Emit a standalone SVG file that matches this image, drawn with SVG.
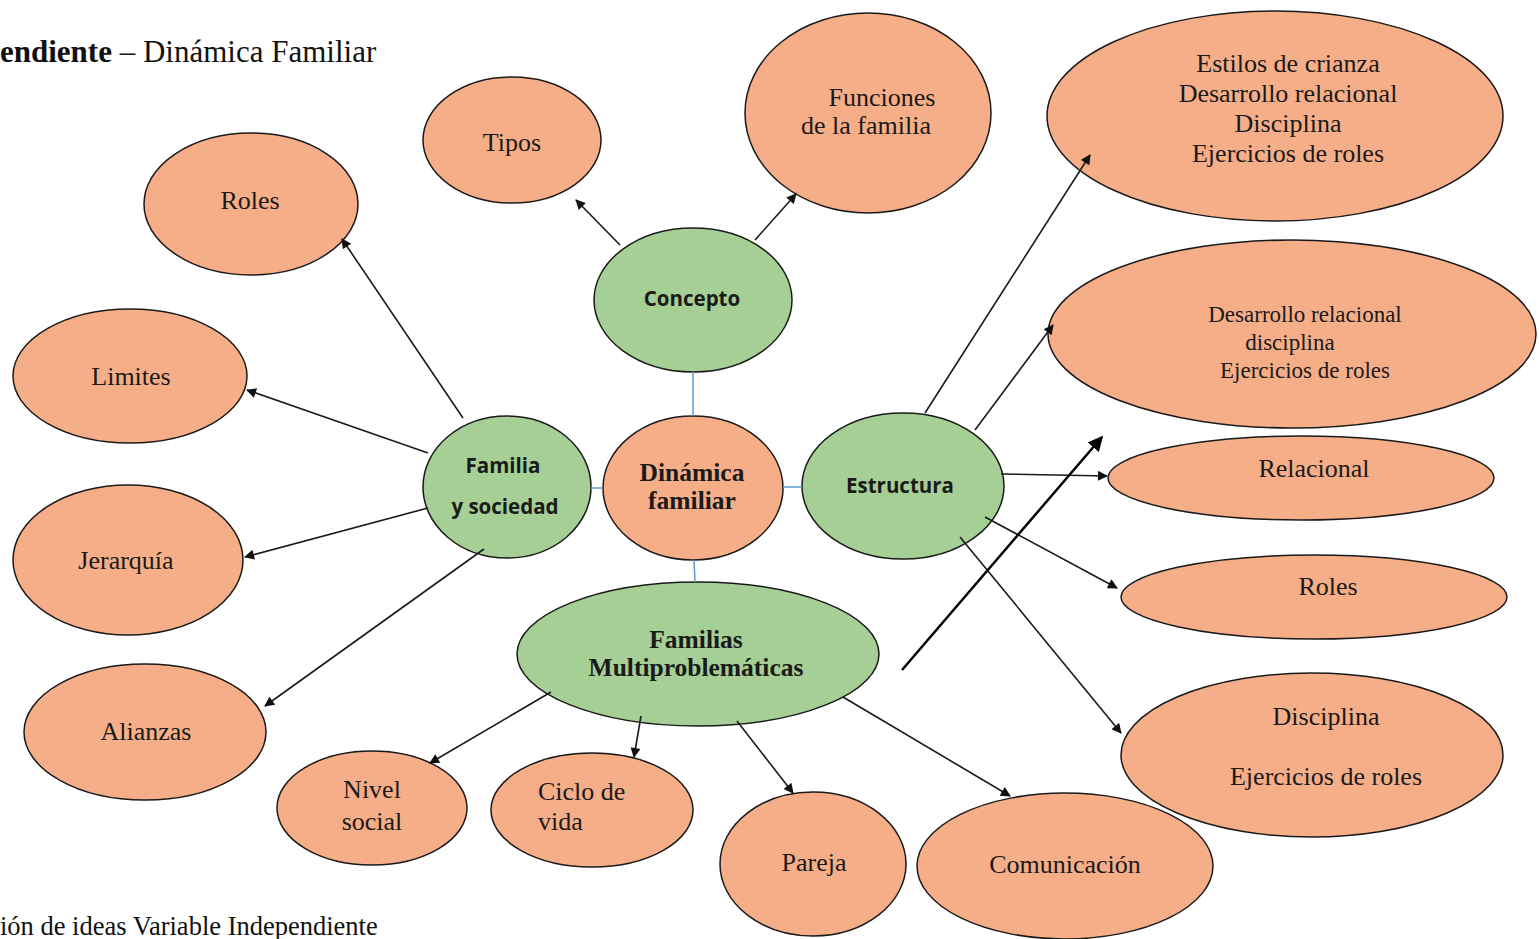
<svg xmlns="http://www.w3.org/2000/svg" width="1539" height="939" viewBox="0 0 1539 939">
<style>
.o{fill:#F6AE88;stroke:#1a1a1a;stroke-width:1.5}
.g{fill:#A5CF94;stroke:#1a1a1a;stroke-width:1.5}
.t{font-family:"Liberation Serif","Times New Roman",serif;font-size:26px;fill:#1a1a1a;text-anchor:middle}
.ts{font-family:"Liberation Serif","Times New Roman",serif;font-size:26px;fill:#1a1a1a;text-anchor:start}
.tn{font-family:"Liberation Serif","Times New Roman",serif;font-size:23px;fill:#1a1a1a;text-anchor:middle}
.tb{font-family:"Liberation Serif","Times New Roman",serif;font-size:25.5px;font-weight:bold;fill:#1a1a1a;text-anchor:middle}
.sb{font-family:"Open Sans","Liberation Sans",Arial,sans-serif;font-size:20.5px;font-weight:bold;fill:#1a1a1a;text-anchor:middle}
.a{stroke:#1a1a1a;stroke-width:1.6;fill:none;marker-end:url(#ah)}
.b{stroke:#5B9BD5;stroke-width:1.5;fill:none}
.cap{font-family:"Liberation Serif","Times New Roman",serif;fill:#111}
</style>
<defs>
<marker id="ah" viewBox="0 0 10 10" refX="9" refY="5" markerWidth="11" markerHeight="10" markerUnits="userSpaceOnUse" orient="auto">
<path d="M0,0 L10,5 L0,10 z" fill="#111"/>
</marker>
<marker id="ah2" viewBox="0 0 10 10" refX="9" refY="5" markerWidth="6" markerHeight="6" orient="auto">
<path d="M0,0 L10,5 L0,10 z" fill="#000"/>
</marker>
</defs>
<rect width="1539" height="939" fill="#fff"/>
<text class="cap" x="0" y="62" style="font-size:31px"><tspan font-weight="bold">endiente</tspan> – Dinámica Familiar</text>
<text class="cap" x="0" y="935" style="font-size:26.5px">ión de ideas Variable Independiente</text>

<g id="n-tipos"><ellipse class="o" cx="512" cy="140" rx="89" ry="63"/><text class="t" x="512" y="151">Tipos</text></g>
<g id="n-funciones"><ellipse class="o" cx="868" cy="113" rx="123" ry="100"/><text class="t" x="882" y="106">Funciones</text><text class="t" x="866" y="134">de la familia</text></g>
<g id="n-estilos"><ellipse class="o" cx="1275" cy="116" rx="228" ry="105"/><text class="t" x="1288" y="72">Estilos de crianza</text><text class="t" x="1288" y="102">Desarrollo relacional</text><text class="t" x="1288" y="132">Disciplina</text><text class="t" x="1288" y="162">Ejercicios de roles</text></g>
<g id="n-roles-l"><ellipse class="o" cx="251" cy="204" rx="107" ry="71"/><text class="t" x="250" y="209">Roles</text></g>
<g id="n-limites"><ellipse class="o" cx="130" cy="376" rx="117" ry="67"/><text class="t" x="131" y="385">Limites</text></g>
<g id="n-jerarquia"><ellipse class="o" cx="128" cy="560" rx="115" ry="75"/><text class="t" x="126" y="569">Jerarquía</text></g>
<g id="n-alianzas"><ellipse class="o" cx="145" cy="732" rx="121" ry="68"/><text class="t" x="146" y="740">Alianzas</text></g>
<g id="n-concepto"><ellipse class="g" cx="693" cy="300" rx="99" ry="72"/><text class="sb" x="692" y="306">Concepto</text></g>
<g id="n-familia"><ellipse class="g" cx="507" cy="487" rx="84" ry="71"/><text class="sb" x="503" y="473">Familia</text><text class="sb" x="505" y="514">y sociedad</text></g>
<g id="n-dinamica"><ellipse class="o" cx="693" cy="488" rx="90" ry="72"/><text class="tb" x="692" y="481">Dinámica</text><text class="tb" x="692" y="509">familiar</text></g>
<g id="n-estructura"><ellipse class="g" cx="903" cy="486" rx="101" ry="73"/><text class="sb" x="900" y="493">Estructura</text></g>
<g id="n-multi"><ellipse class="g" cx="698" cy="654" rx="181" ry="72"/><text class="tb" x="696" y="648">Familias</text><text class="tb" x="696" y="676">Multiproblemáticas</text></g>
<g id="n-desarrollo"><ellipse class="o" cx="1292" cy="334" rx="244" ry="94"/><text class="tn" x="1305" y="322">Desarrollo relacional</text><text class="tn" x="1290" y="350">disciplina</text><text class="tn" x="1305" y="378">Ejercicios de roles</text></g>
<g id="n-relacional"><ellipse class="o" cx="1301" cy="478" rx="193" ry="42"/><text class="t" x="1314" y="477">Relacional</text></g>
<g id="n-roles-r"><ellipse class="o" cx="1314" cy="597" rx="193" ry="42"/><text class="t" x="1328" y="595">Roles</text></g>
<g id="n-disciplina"><ellipse class="o" cx="1312" cy="755" rx="191" ry="82"/><text class="t" x="1326" y="725">Disciplina</text><text class="t" x="1326" y="785">Ejercicios de roles</text></g>
<g id="n-nivel"><ellipse class="o" cx="372" cy="808" rx="95" ry="57"/><text class="t" x="372" y="798">Nivel</text><text class="t" x="372" y="830">social</text></g>
<g id="n-ciclo"><ellipse class="o" cx="592" cy="810" rx="101" ry="57"/><text class="ts" x="538" y="800">Ciclo de</text><text class="ts" x="538" y="830">vida</text></g>
<g id="n-pareja"><ellipse class="o" cx="813" cy="864" rx="93" ry="72"/><text class="t" x="814" y="871">Pareja</text></g>
<g id="n-comunicacion"><ellipse class="o" cx="1065" cy="866" rx="148" ry="73"/><text class="t" x="1065" y="873">Comunicación</text></g>

<g id="connectors">
<line class="b" x1="693" y1="372" x2="693" y2="416"/>
<line class="b" x1="591" y1="488" x2="603" y2="488"/>
<line class="b" x1="783" y1="487" x2="802" y2="487"/>
<line class="b" x1="694" y1="560" x2="695" y2="582"/>
<line class="a" x1="620" y1="245" x2="576" y2="200"/>
<line class="a" x1="755" y1="240" x2="796" y2="194"/>
<line class="a" x1="463" y1="418" x2="342" y2="239"/>
<line class="a" x1="428" y1="453" x2="247" y2="390"/>
<line class="a" x1="428" y1="508" x2="245" y2="557"/>
<line class="a" x1="484" y1="549" x2="265" y2="706"/>
<line class="a" x1="925" y1="413" x2="1090" y2="155"/>
<line class="a" x1="975" y1="430" x2="1053" y2="325"/>
<line class="a" x1="1001" y1="474" x2="1107" y2="476"/>
<line class="a" x1="985" y1="517" x2="1117" y2="588"/>
<line class="a" x1="960" y1="537" x2="1121" y2="733"/>
<line x1="902" y1="670" x2="1102" y2="437" stroke="#000" stroke-width="2.5" marker-end="url(#ah2)"/>
<line class="a" x1="551" y1="692" x2="430" y2="763"/>
<line class="a" x1="641" y1="716" x2="634" y2="757"/>
<line class="a" x1="737" y1="721" x2="793" y2="793"/>
<line class="a" x1="843" y1="697" x2="1010" y2="796"/>
</g>
</svg>
